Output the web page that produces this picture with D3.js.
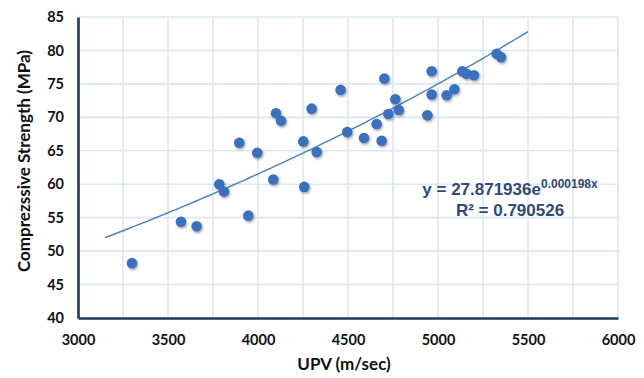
<!DOCTYPE html>
<html>
<head>
<meta charset="utf-8">
<script src="https://cdn.jsdelivr.net/npm/d3@7"></script>
<style>
  html, body { margin: 0; padding: 0; background: #fff; }
  svg { display: block; }
</style>
</head>
<body>
<svg id="chart" width="644" height="378"></svg>
<script>
// UPV readings (m/sec) and matching compressive strength (MPa)
const upv = [3300, 3572, 3659, 3785, 3811, 3946, 3896, 3996, 4085, 4100, 4128, 4252, 4257,
             4298, 4326, 4459, 4496, 4589, 4659, 4687, 4702, 4724, 4763, 4782, 4941, 4965,
             4965, 5048, 5091, 5135, 5159, 5200, 5326, 5350];
const strength = [48.2, 54.4, 53.7, 60.0, 58.9, 55.3, 66.2, 64.7, 60.7, 70.6, 69.5, 66.4, 59.6,
                  71.3, 64.8, 74.1, 67.8, 66.9, 69.0, 66.5, 75.8, 70.5, 72.7, 71.1, 70.3, 76.9,
                  73.4, 73.3, 74.2, 76.9, 76.5, 76.3, 79.5, 79.0];

// Exponential fit y = a·e^(b·x)
const fitA = 27.871936, fitB = 0.000198, fitR2 = 0.790526;
const fitRange = [3150, 5500];

const xTicks = [3000, 3500, 4000, 4500, 5000, 5500, 6000];
const xGrid = d3.range(3000, 6001, 250);
const yTicks = [40, 45, 50, 55, 60, 65, 70, 75, 80, 85];

const svg = d3.select("#chart");
const plot = { left: 78, right: 618, top: 17, bottom: 318 };

const x = d3.scaleLinear().domain([3000, 6000]).range([plot.left, plot.right]);
const y = d3.scaleLinear().domain([40, 85]).range([plot.bottom, plot.top]);

const defs = svg.append("defs");
const f = defs.append("filter").attr("id", "shadow").attr("x", "-50%").attr("y", "-50%")
  .attr("width", "200%").attr("height", "200%");
f.append("feDropShadow").attr("dx", 1).attr("dy", 1.6).attr("stdDeviation", 1.1)
  .attr("flood-color", "#000").attr("flood-opacity", 0.35);

// gridlines
const grid = svg.append("g").attr("stroke", "#dce7f4").attr("stroke-width", 1.6);
grid.selectAll("line.v").data(xGrid).join("line").attr("class", "v")
  .attr("x1", d => x(d)).attr("x2", d => x(d)).attr("y1", plot.top).attr("y2", plot.bottom);
grid.selectAll("line.h").data(yTicks).join("line").attr("class", "h")
  .attr("x1", plot.left).attr("x2", plot.right).attr("y1", d => y(d)).attr("y2", d => y(d));

// axes
const tickFont = "Lato, 'Open Sans', sans-serif";
const xAxis = svg.append("g").attr("transform", `translate(0,${plot.bottom})`)
  .call(d3.axisBottom(x).tickValues(xTicks).tickSize(0).tickPadding(17).tickFormat(d3.format("d")));
const yAxis = svg.append("g").attr("transform", `translate(${plot.left},0)`)
  .call(d3.axisLeft(y).tickValues(yTicks).tickSize(0).tickPadding(14).tickFormat(d3.format("d")));
[xAxis, yAxis].forEach(g => {
  g.select(".domain").attr("stroke", "#1f3a5f").attr("stroke-width", 2.6);
  g.selectAll("text").attr("font-family", tickFont).attr("font-weight", 700)
    .attr("font-size", 14.5).attr("fill", "#111");
});

// trendline
const fitPts = d3.range(fitRange[0], fitRange[1] + 1, 25).map(v => [v, fitA * Math.exp(fitB * v)]);
svg.append("path").datum(fitPts)
  .attr("fill", "none").attr("stroke", "#4a7ebf").attr("stroke-width", 1.4)
  .attr("d", d3.line().x(d => x(d[0])).y(d => y(d[1])));

// points
svg.append("g").attr("filter", "url(#shadow)")
  .selectAll("circle").data(upv.map((v, i) => [v, strength[i]])).join("circle")
  .attr("cx", d => x(d[0])).attr("cy", d => y(d[1])).attr("r", 5.3)
  .attr("fill", "#3a70be");

// equation label
const eq = svg.append("text").attr("x", 510).attr("y", 195).attr("text-anchor", "middle")
  .attr("font-family", "'Liberation Sans', Arial, sans-serif").attr("font-weight", 700)
  .attr("font-size", 17).attr("fill", "#2d4a78");
eq.append("tspan").text(`y = ${fitA.toFixed(6)}e`);
eq.append("tspan").attr("dy", -7).attr("font-size", 12).text(`${fitB.toFixed(6)}x`);
svg.append("text").attr("x", 510).attr("y", 216).attr("text-anchor", "middle")
  .attr("font-family", "'Liberation Sans', Arial, sans-serif").attr("font-weight", 700)
  .attr("font-size", 17).attr("fill", "#2d4a78")
  .text(`R² = ${fitR2.toFixed(6)}`);

// axis titles
svg.append("text").attr("x", 344).attr("y", 370).attr("text-anchor", "middle")
  .attr("font-family", tickFont).attr("font-weight", 700).attr("font-size", 17)
  .attr("fill", "#111").text("UPV (m/sec)");
svg.append("text").attr("transform", "translate(30,161) rotate(-90)").attr("text-anchor", "middle")
  .attr("font-family", tickFont).attr("font-weight", 700).attr("font-size", 17)
  .attr("fill", "#111").text("Comprezssive Strength (MPa)");
</script>
</body>
</html>
